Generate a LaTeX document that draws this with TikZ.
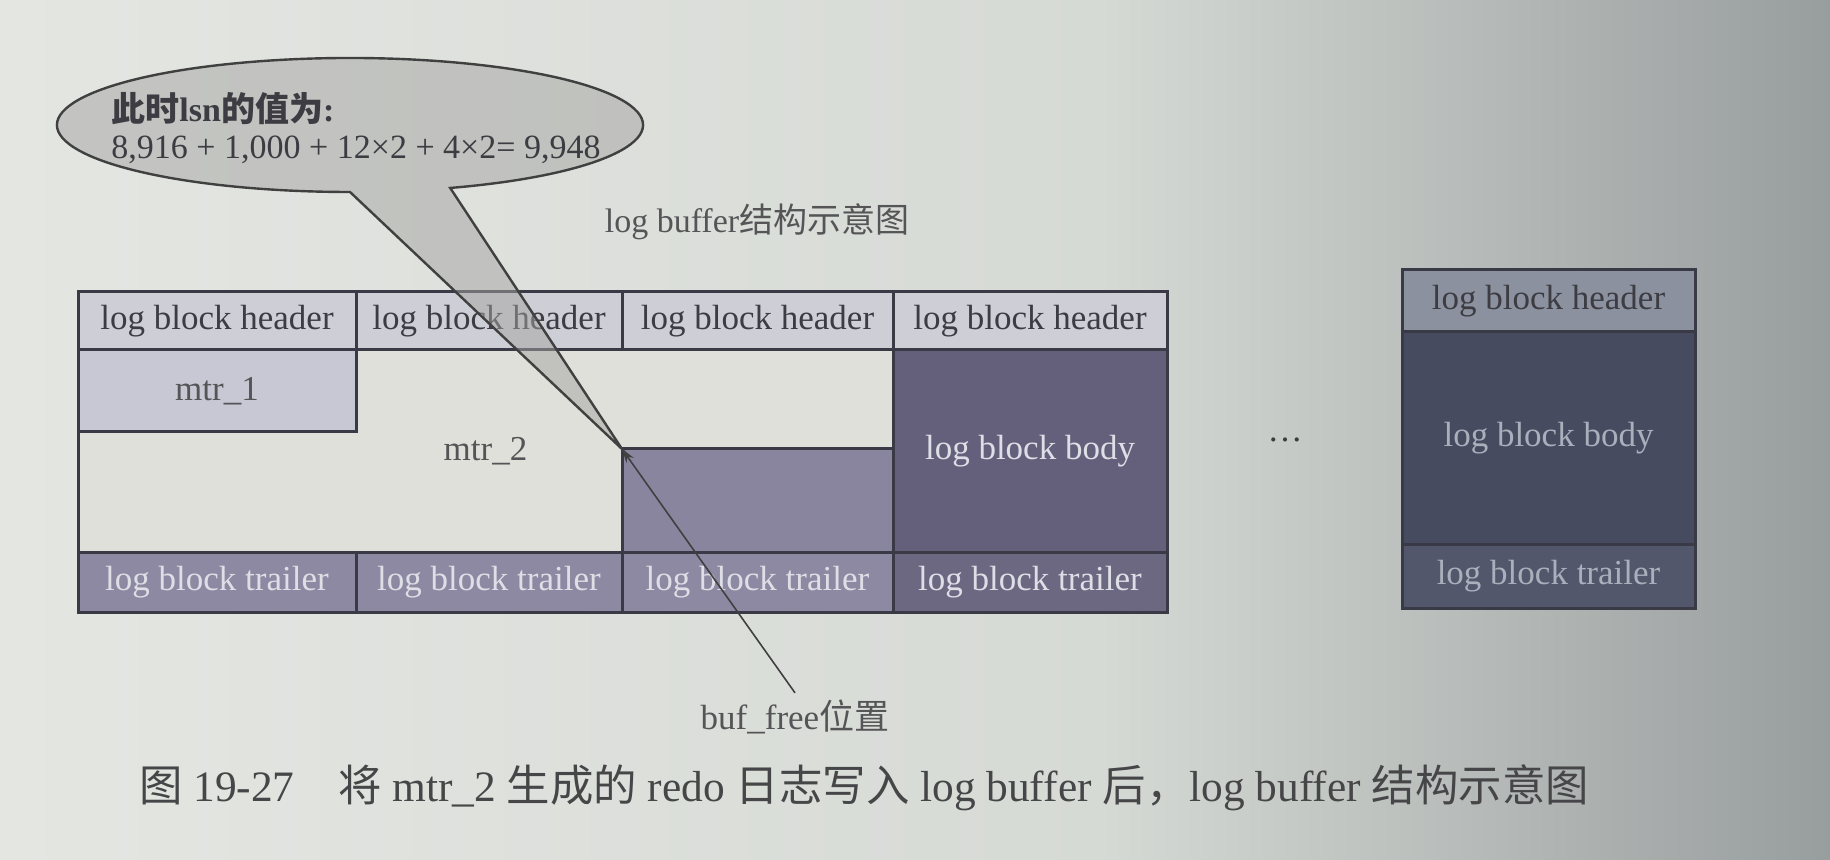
\documentclass[tikz,border=0pt]{standalone}
\usepackage{fontspec}
\setmainfont{Liberation Serif}
\newfontfamily\cjk{Noto Sans CJK SC}
\usepackage{xcolor}
\usepackage{tikz}
\usetikzlibrary{arrows.meta,positioning}
\definecolor{paperL}{RGB}{228,230,226}
\definecolor{paperM}{RGB}{214,218,213}
\definecolor{paperR}{RGB}{152,157,158}
\definecolor{gridline}{RGB}{58,58,70}
\definecolor{hdrfill}{RGB}{206,206,214}
\definecolor{mtrfill}{RGB}{200,200,212}
\definecolor{usedfill}{RGB}{222,224,217}
\definecolor{freefill}{RGB}{138,133,158}
\definecolor{bodyfill}{RGB}{100,96,124}
\definecolor{trailfill}{RGB}{142,137,162}
\definecolor{trailfillR}{RGB}{108,104,130}
\definecolor{rhdrfill}{RGB}{140,145,160}
\definecolor{rbodyfill}{RGB}{70,75,96}
\definecolor{rtrailfill}{RGB}{82,87,108}
\definecolor{darktext}{RGB}{60,60,66}
\definecolor{midtext}{RGB}{85,85,88}
\definecolor{lighttext}{RGB}{222,222,230}
\definecolor{rlighttext}{RGB}{170,175,188}
\definecolor{bubblefill}{RGB}{165,165,163}
\definecolor{bubbleline}{RGB}{64,64,64}
\definecolor{captext}{RGB}{70,70,72}
\newcommand{\cellfont}{\fontsize{17.5}{20}\selectfont}
\newcommand{\titlefont}{\fontsize{17}{20}\selectfont}
\newcommand{\bubfont}{\fontsize{17}{18.5}\selectfont}
\newcommand{\capfont}{\fontsize{21.7}{25}\selectfont}

\begin{document}
\begin{tikzpicture}[x=0.5pt,y=-0.5pt,
    cell/.style={draw=gridline,line width=1.5pt,outer sep=0pt,inner sep=0pt,minimum width=136pt,font=\cellfont},
    hdr/.style={cell,fill=hdrfill,minimum height=29pt,text=darktext},
    trl/.style={cell,fill=trailfill,minimum height=30pt,text=lighttext},
    freebox/.style={cell,fill=freefill,text=lighttext},
    rblock/.style={cell,minimum width=146.5pt},
    bubble/.style={draw=bubbleline,line width=1.2pt,fill=bubblefill,fill opacity=0.5},
    pointer/.style={-{Stealth[length=7pt,width=4.5pt]},draw=bubbleline,line width=0.8pt}
  ]
    \shade[left color=paperL,right color=paperM] (0,0) rectangle (1100,860);
    \shade[left color=paperM,right color=paperR] (1100,0) rectangle (1830,860);
    \useasboundingbox (0,0) rectangle (1830,860);
    \node[hdr,anchor=north west,minimum width=139pt] (h1) at (78,292) {log block header};
    \node[hdr,right=0pt of h1,minimum width=133pt] (h2) {log block header};
    \node[hdr,right=0pt of h2,minimum width=135.5pt] (h3) {log block header};
    \node[hdr,right=0pt of h3,minimum width=137pt] (h4) {log block header};
    \node[cell,fill=usedfill,text=midtext,anchor=north west,minimum width=407.5pt,minimum height=101pt] (mtr2) at (h1.south west) {mtr\_2};
    \node[cell,fill=mtrfill,text=midtext,anchor=north west,minimum width=139pt,minimum height=41pt] (mtr1) at (h1.south west) {mtr\_1};
    \node[freebox,anchor=south east,minimum width=135.5pt,minimum height=51.5pt] (free) at (mtr2.south east) {};
    \node[freebox,fill=bodyfill,below=0pt of h4,minimum width=137pt,minimum height=101pt] (body4) {log block body};
    \node[trl,anchor=north west,minimum width=139pt] (t1) at (mtr2.south west) {log block trailer};
    \node[trl,right=0pt of t1,minimum width=133pt] (t2) {log block trailer};
    \node[trl,right=0pt of t2,minimum width=135.5pt] (t3) {log block trailer};
    \node[trl,fill=trailfillR,right=0pt of t3,minimum width=137pt] (t4) {log block trailer};
    \draw[gridline,line width=1.5pt] (h1.north west) rectangle (t4.south east);
    \node[text=darktext,font=\cellfont] (dots) at (1285,440) {\dots};
    \node[rblock,fill=rhdrfill,text=darktext,anchor=north west,minimum height=31pt] (rh) at (1402,270) {log block header};
    \node[rblock,fill=rbodyfill,text=rlighttext,below=0pt of rh,minimum height=106.5pt] (rb) {log block body};
    \node[rblock,fill=rtrailfill,text=rlighttext,below=0pt of rb,minimum height=31.5pt] (rt) {log block trailer};
    \node[text=midtext,font=\titlefont] (title) at (757,222) {log buffer{\cjk 结构示意图}};
    \coordinate (bub) at (350,125);
    \draw[bubble] (free.north west) -- ([shift={(-70:146.5pt and 33.5pt)}]bub) arc[start angle=-70,end angle=270,x radius=146.5pt,y radius=33.5pt] -- cycle;
    \node[align=left,text=darktext,font=\bubfont] (lsn) at (356,128) {{\bfseries\cjk 此时}\textbf{lsn}{\bfseries\cjk 的值为}\textbf{:}\\8,916 + 1,000 + 12×2 + 4×2= 9,948};
    \node[text=midtext,font=\cellfont] (buf) at (795,717) {buf\_free{\cjk 位置}};
    \draw[pointer] (buf.north) -- (free.north west);
    \node[text=captext,font=\capfont] (caption) at (864,788) {{\cjk 图} 19-27\quad{\cjk 将} mtr\_2 {\cjk 生成的} redo {\cjk 日志写入} log buffer {\cjk 后，}log buffer {\cjk 结构示意图}};
  \end{tikzpicture}
\end{document}
